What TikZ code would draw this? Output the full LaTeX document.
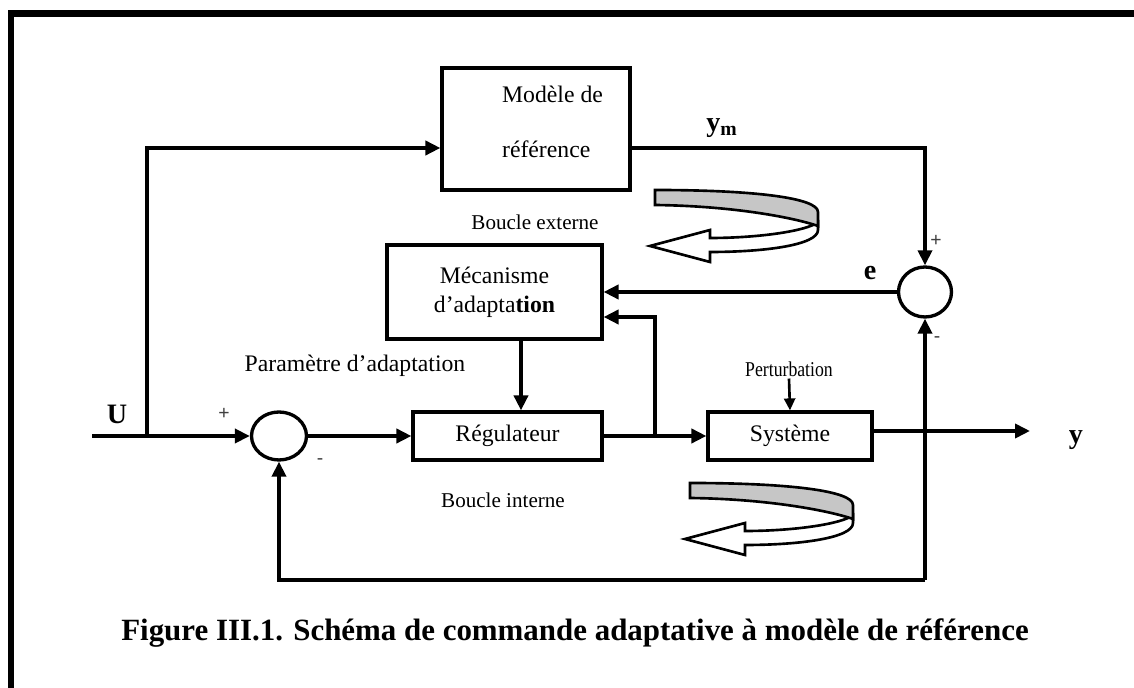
\documentclass[tikz,border=0pt]{standalone}
\usepackage{fontspec}
\setmainfont{Liberation Serif}
\setsansfont{Liberation Sans}
\usetikzlibrary{arrows.meta,shapes.geometric}
\begin{document}
\begin{tikzpicture}[x=0.02cm,y=-0.02cm,
  blk/.style={draw,line width=1.8pt,inner sep=0pt,font=\fontsize{13.5}{16.5}\selectfont},
  sum/.style={draw,ellipse,line width=1.9pt,inner sep=0pt},
  txt/.style={font=\fontsize{13.5}{16}\selectfont,inner sep=1pt},
  small/.style={font=\fontsize{12}{14}\selectfont,inner sep=1pt},
  sgn/.style={font=\sffamily\fontsize{11}{12}\selectfont,inner sep=0pt,text=black!75},
  big/.style={font=\bfseries\fontsize{17.6}{20}\selectfont,inner sep=0pt},
  ln/.style={line width=2.1pt},
  ar/.style={ln,-{Triangle[length=0.3cm,width=0.28cm]}},
  swirl/.pic={
    \filldraw[fill=white,line width=1.5pt,line join=miter]
      (163,30) -- (163,40) .. controls (163,55) and (110,62) .. (55,62)
      -- (55,72) -- (-5,56) -- (55,40) -- (55,48)
      .. controls (100,48) and (145,42) .. (160,34);
    \filldraw[fill=gray!45,line width=1.5pt]
      (0,0) .. controls (100,0) and (163,8) .. (163,22) -- (163,36)
      .. controls (140,28) and (80,16) .. (0,15) -- cycle;
  },
]
\useasboundingbox (0,0) rectangle (1134,688);
\draw[line width=0.14cm] (11,700) -- (11,13.5) -- (1140,13.5);

\node[blk,minimum width=3.76cm,minimum height=2.44cm] (mod) at (536,129) {};
\node[txt,align=left,anchor=west] (modt) at (500,122) {Modèle de\\[15pt]référence};
\node[blk,minimum width=4.3cm,minimum height=1.88cm,align=center] (mec) at (494.5,292) {Mécanisme\\d’adapta\textbf{tion}};
\node[blk,minimum width=3.78cm,minimum height=0.96cm] (reg) at (507.5,436) {Régulateur};
\node[blk,minimum width=3.28cm,minimum height=0.96cm] (sys) at (790,436) {Système};
\node[sum,minimum width=1.1cm,minimum height=0.96cm] (s1) at (279,436) {};
\node[sum,minimum width=1.06cm,minimum height=1cm] (s2) at (925,292) {};

\coordinate (u0) at (92,436);
\coordinate (u1) at (147,436);
\coordinate (br) at (655,436);
\coordinate (fb) at (925,580);
\coordinate (yend) at (1030,431);

\draw[ln] (u0) -- (u1);
\draw[ar] (u1) -- (s1.west);
\draw[ar] (u1) |- ([yshift=-0.38cm]mod.west);
\draw[ar] ([yshift=-0.38cm]mod.east) -| (s2.north);
\draw[ar] (s2.west) -- (s2.west -| mec.east);
\draw[ar] (s1.east) -- (reg.west);
\draw[ar] (reg.east) -- (sys.west);
\draw[ar] (br) |- ([yshift=-0.5cm]mec.east);
\draw[ar] ([xshift=0.53cm]mec.south) -- ([xshift=0.53cm]mec.south |- reg.north);
\draw[ar] ([yshift=0.1cm]sys.east) -- (yend);
\draw[ar] (fb) -- (s2.south);
\draw[ar] (fb) -| (s1.south);

\node[small,xscale=0.84,transform shape] (pert) at (789,369) {Perturbation};
\draw[line width=1.5pt,-{Triangle[length=0.24cm,width=0.22cm]}] (pert.south) -- (sys.north);

\node[small] (bext) at (535,222) {Boucle externe};
\node[small] (bint) at (503,500) {Boucle interne};
\node[txt] (par) at (355,366) {Paramètre d’adaptation};
\node[txt,font=\bfseries\fontsize{16}{18}\selectfont] (lu) at (117,414) {U};
\node[txt,font=\bfseries\fontsize{16}{18}\selectfont] (ly) at (1076,440) {y};
\node[txt,font=\bfseries\fontsize{16}{18}\selectfont] (le) at (870,273) {e};
\node[txt,font=\bfseries\fontsize{16}{18}\selectfont] (lym) at (722,128) {y\textsubscript{m}};

\node[sgn] (p1) at (224,414) {+};
\node[sgn] (m1) at (320,462) {-};
\node[sgn] (p2) at (936,241) {+};
\node[sgn] (m2) at (937,340) {-};

\pic (sw1) at (655,190) {swirl};
\pic (sw2) at (690,483) {swirl};

\node[big] (cap) at (575,633) {Figure III.1. Schéma de commande adaptative à modèle de référence};
\end{tikzpicture}
\end{document}
